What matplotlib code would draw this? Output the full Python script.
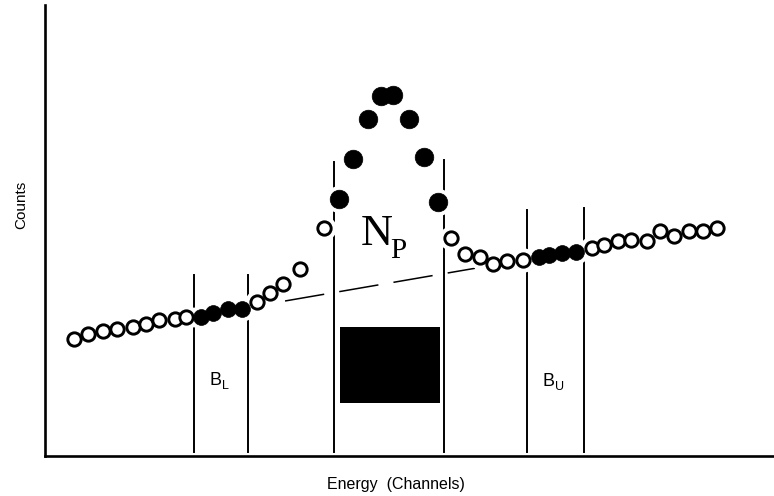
import matplotlib
matplotlib.use("Agg")
import matplotlib.pyplot as plt
from matplotlib.patches import Rectangle
import numpy as np

# Spectrum: channel positions and counts
low_open_ch = [2.0, 3.0, 4.0, 5.0, 6.1, 7.0, 7.9, 9.0, 9.8]
low_open_ct = [117, 122, 125, 127, 129, 132, 136, 137, 139]
bl_ch = [10.8, 11.7, 12.7, 13.7]
bl_ct = [139, 143, 147, 147]
rise_ch = [14.7, 15.6, 16.5, 17.7, 19.4]
rise_ct = [154, 163, 172, 187, 228]
peak_ch = [20.4, 21.4, 22.4, 23.3, 24.2, 25.3, 26.3, 27.3]
peak_ct = [257, 297, 337, 360, 361, 337, 299, 254]
fall_ch = [28.2, 29.2, 30.2, 31.1, 32.1, 33.2]
fall_ct = [218, 202, 199, 192, 195, 196]
bu_ch = [34.3, 35.0, 35.9, 36.9]
bu_ct = [199, 201, 203, 204]
high_open_ch = [38.0, 38.8, 39.8, 40.7, 41.8, 42.7, 43.7, 44.7, 45.7, 46.7]
high_open_ct = [208, 211, 215, 216, 215, 225, 220, 225, 225, 228]

# Region boundaries (channels) and the height of their marker lines (counts)
bl_edges = [10.35, 14.1]
bl_top = 181
peak_edges = [20.07, 27.7]
peak_top = [294, 296]
bu_edges = [33.5, 37.4]
bu_top = [246, 248]

fig = plt.figure(figsize=(7.74, 4.96), dpi=100)
W, H = 774, 496
ax = fig.add_axes([45 / W, (H - 456) / H, (W - 45) / W, (456 - 5) / H])
ax.set_xlim(0, (W - 45) / 14.4)
ax.set_ylim(0, 451)
ax.set_xticks([])
ax.set_yticks([])
for s in ("top", "right"):
    ax.spines[s].set_visible(False)
for s in ("left", "bottom"):
    ax.spines[s].set_linewidth(1.9)

lw = 1.4
# Region boundary lines
for x in bl_edges:
    ax.plot([x, x], [4, bl_top], color="black", lw=lw, zorder=1)
for x, t in zip(peak_edges, peak_top):
    ax.plot([x, x], [4, t], color="black", lw=lw, zorder=1)
for x, t in zip(bu_edges, bu_top):
    ax.plot([x, x], [4, t], color="black", lw=lw, zorder=1)

# Linear background between the two background windows
x0, y0 = np.mean(bl_ch), np.mean(bl_ct)
x1, y1 = np.mean(bu_ch), np.mean(bu_ct)
slope = (y1 - y0) / (x1 - x0)
bx = np.array([16.67, 29.86])
ax.plot(bx, y0 + slope * (bx - x0), color="black", lw=1.1,
        dashes=(26, 10), zorder=1)

open_sets = [(low_open_ch, low_open_ct), (rise_ch, rise_ct),
             (fall_ch, fall_ct), (high_open_ch, high_open_ct)]
bg_sets = [(bl_ch, bl_ct), (bu_ch, bu_ct)]

# White halos so the boundary lines break around the points
for xs, ys in open_sets + bg_sets:
    ax.plot(xs, ys, "o", ls="none", ms=16.5, mfc="white", mec="white", zorder=2)
ax.plot(peak_ch, peak_ct, "o", ls="none", ms=18.5, mfc="white", mec="white", zorder=2)

for xs, ys in open_sets:
    ax.plot(xs, ys, "o", ls="none", ms=9.6, mfc="white", mec="black",
            mew=2.1, zorder=3)
for xs, ys in bg_sets:
    ax.plot(xs, ys, "o", ls="none", ms=11.4, mfc="black", mec="black",
            mew=0.5, zorder=3)
ax.plot(peak_ch, peak_ct, "o", ls="none", ms=13.4, mfc="black", mec="black",
        mew=0.5, zorder=3)

# Net peak area block
ax.add_patch(Rectangle((20.49, 52.7), 27.43 - 20.49, 129.3 - 52.7,
                       facecolor="black", edgecolor="none", zorder=3))

# Labels
ax.text(21.9, 211, "N", fontsize=32, family="Liberation Serif",
        ha="left", va="baseline", zorder=4)
ax.text(23.95, 198, "P", fontsize=21, family="Liberation Serif",
        ha="left", va="baseline", zorder=4)

sans = "Liberation Sans"
ax.text(11.4, 71, "B", fontsize=13, family=sans, ha="left", va="baseline")
ax.text(12.3, 67, "L", fontsize=9, family=sans, ha="left", va="baseline")
ax.text(34.55, 70, "B", fontsize=13, family=sans, ha="left", va="baseline")
ax.text(35.45, 66, "U", fontsize=9, family=sans, ha="left", va="baseline")

fig.text(21 / W, 1 - 205 / H, "Counts", rotation=90, fontsize=11,
         family=sans, ha="center", va="center")
fig.text(396 / W, 1 - 484 / H, "Energy  (Channels)", fontsize=11.5,
         family=sans, ha="center", va="center")

fig.savefig("out.png", dpi=100)
